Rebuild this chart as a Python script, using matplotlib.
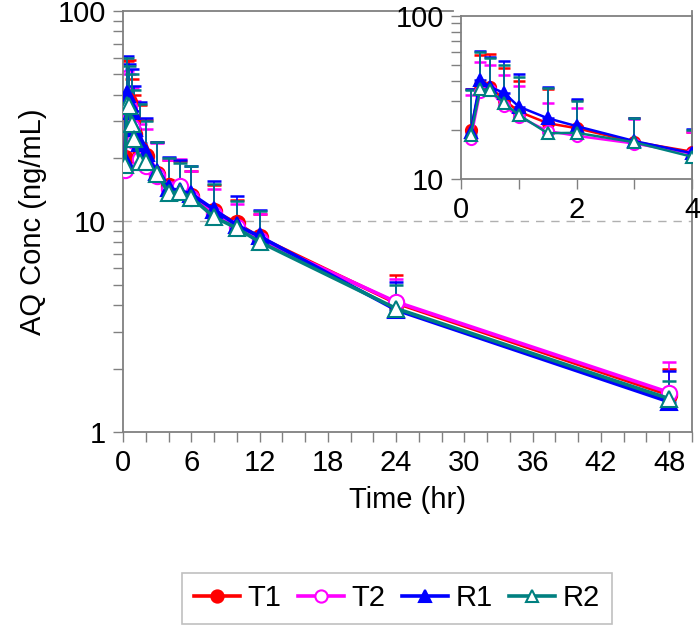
import matplotlib
matplotlib.use("Agg")
import matplotlib.pyplot as plt
from matplotlib.ticker import FixedLocator, NullFormatter, FuncFormatter

plt.rcParams['font.family'] = ['Liberation Sans', 'DejaVu Sans']

# sampling times (hr)
time = [0.167, 0.333, 0.5, 0.75, 1, 1.5, 2, 3, 4, 5, 6, 8, 10, 12, 24, 48]

# mean concentrations (ng/mL)
t1 = [20.0, 37.8, 36.8, 30.5, 25.9, 22.0, 20.5, 16.9, 14.7, 14.2, 13.2, 11.2, 9.8, 8.4, 4.1, 1.50]
t2 = [17.5, 34.3, 35.0, 28.0, 24.1, 19.7, 18.4, 16.5, 14.3, 14.8, 13.0, 10.9, 9.4, 8.2, 4.15, 1.54]
r1 = [19.5, 40.4, 36.8, 33.6, 27.8, 23.6, 21.1, 17.1, 14.4, 14.0, 13.5, 11.4, 9.6, 8.5, 3.8, 1.39]
r2 = [18.6, 35.6, 35.2, 29.1, 24.7, 19.1, 19.2, 16.8, 13.7, 13.8, 13.0, 10.5, 9.3, 8.0, 3.86, 1.44]

# upper ends of the SD bars
t1_top = [35.5, 58.0, 58.2, 47.7, 39.9, 35.8, 30.5, 23.8, 19.5, 19.3, 17.4, 14.9, 12.7, 10.9, 5.55, 2.00]
t2_top = [32.8, 52.0, 50.0, 43.2, 37.2, 29.1, 27.4, 23.5, 19.5, 19.8, 17.4, 14.3, 12.1, 10.9, 5.35, 2.15]
r1_top = [35.5, 61.0, 55.7, 53.0, 44.0, 36.8, 31.0, 23.8, 20.3, 19.6, 18.3, 15.5, 13.2, 11.4, 5.15, 1.95]
r2_top = [35.0, 60.0, 55.0, 50.0, 42.0, 36.0, 30.0, 23.8, 20.0, 19.0, 18.3, 15.0, 12.5, 11.2, 5.00, 1.75]

series = [
    ("T1", t1, t1_top, "#ff0000", "o", "#ff0000"),
    ("T2", t2, t2_top, "#ff00ff", "o", "white"),
    ("R1", r1, r1_top, "#0000ff", "^", "#0000ff"),
    ("R2", r2, r2_top, "#008080", "^", "white"),
]

fig = plt.figure(figsize=(7, 6.27), dpi=100)
ax = fig.add_axes([0.1757, 0.311, 0.8129, 0.6715])
ins = fig.add_axes([0.6586, 0.7145, 0.33, 0.26])

def draw(a, ms, lw, capsize):
    handles = []
    for name, y, top, col, mk, fc in series:
        err = [[0] * len(y), [tp - v for tp, v in zip(top, y)]]
        a.errorbar(time, y, yerr=err, fmt="none", ecolor=col, elinewidth=1.2,
                   capsize=capsize, capthick=1.8, zorder=2)
    for name, y, top, col, mk, fc in series:
        h, = a.plot(time, y, color=col, lw=lw, marker=mk, ms=ms, mfc=fc,
                    mec=col, mew=1.5, label=name, zorder=3)
        handles.append(h)
    return handles

handles = draw(ax, 11, 2.6, 5)
draw(ins, 8, 1.8, 4)

gray = "#808080"
for a in (ax, ins):
    a.set_yscale("log")
    for s in a.spines.values():
        s.set_color(gray)
        s.set_linewidth(1.3)
    a.tick_params(axis="both", which="both", color=gray, direction="out",
                  length=7, width=1, labelsize=21, pad=5)
    a.yaxis.set_minor_formatter(NullFormatter())
    a.yaxis.set_major_formatter(FuncFormatter(lambda v, p: "%g" % v))

# main axes
ax.set_xlim(0, 50)
ax.set_ylim(1, 100)
ax.xaxis.set_major_locator(FixedLocator(range(0, 51, 2)))
ax.xaxis.set_major_formatter(FuncFormatter(lambda v, p: "%d" % v if v % 6 == 0 and v <= 48 else ""))
ax.axhline(10, color="#b0b0b0", lw=1, ls=(0, (6, 5)), zorder=1)
ax.spines["top"].set_bounds(0, 29)
ax.set_xlabel("Time (hr)", fontsize=21, labelpad=7)
ax.set_ylabel("AQ Conc (ng/mL)", fontsize=21, labelpad=8)

# inset
ins.set_xlim(0, 4)
ins.set_ylim(10, 100)
ins.xaxis.set_major_locator(FixedLocator([0, 1, 2, 3, 4]))
ins.xaxis.set_major_formatter(FuncFormatter(lambda v, p: "%d" % v if v % 2 == 0 else ""))
ins.set_facecolor("white")

leg = fig.legend(handles=handles, loc="lower center", bbox_to_anchor=(0.567, 0.0),
                 ncol=4, fontsize=21, frameon=True, fancybox=False,
                 handlelength=1.6, handletextpad=0.25, columnspacing=0.55,
                 borderpad=0.4, borderaxespad=0.1, markerscale=0.8)
leg.get_frame().set_edgecolor("#b0b0b0")
leg.get_frame().set_linewidth(1.2)

fig.savefig("out.png", dpi=100)
